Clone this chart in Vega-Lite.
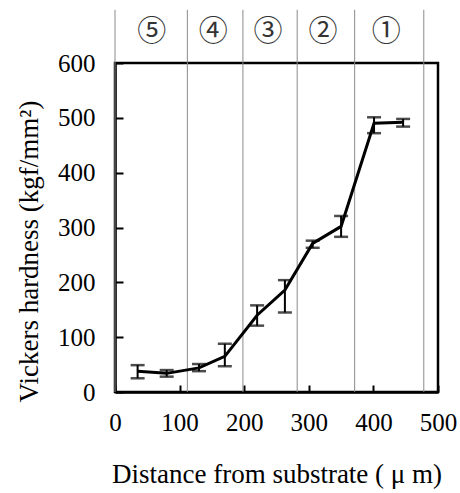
{
  "$schema": "https://vega.github.io/schema/vega-lite/v6.json",
  "width": 323,
  "height": 329,
  "autosize": {"type": "none"},
  "padding": {"left": 115, "top": 63, "right": 22, "bottom": 101},
  "background": "white",
  "config": {
    "font": "Liberation Serif",
    "view": {"stroke": "black", "strokeWidth": 2.5},
    "axis": {
      "labelFont": "Liberation Serif",
      "titleFont": "Liberation Serif",
      "labelFontSize": 25,
      "titleFontSize": 27,
      "titleFontWeight": "normal",
      "labelColor": "black",
      "titleColor": "black",
      "domainColor": "black",
      "domainWidth": 2.5,
      "tickColor": "black",
      "tickWidth": 2,
      "grid": false
    }
  },
  "datasets": {
    "zones": [{"x": 0}, {"x": 112}, {"x": 198}, {"x": 282}, {"x": 371}, {"x": 478}],
    "labels": [
      {"x": 57, "label": "⑤"},
      {"x": 152, "label": "④"},
      {"x": 237, "label": "③"},
      {"x": 322, "label": "②"},
      {"x": 420, "label": "①"}
    ],
    "hv": [
      {"x": 35, "y": 38, "lo": 25, "hi": 49},
      {"x": 80, "y": 34, "lo": 28, "hi": 40},
      {"x": 130, "y": 44, "lo": 38, "hi": 51},
      {"x": 170, "y": 65, "lo": 47, "hi": 88},
      {"x": 220, "y": 140, "lo": 121, "hi": 158},
      {"x": 263, "y": 186, "lo": 145, "hi": 204},
      {"x": 306, "y": 271, "lo": 263, "hi": 276},
      {"x": 350, "y": 302, "lo": 283, "hi": 321},
      {"x": 401, "y": 490, "lo": 472, "hi": 501},
      {"x": 446, "y": 492, "lo": 484, "hi": 498}
    ]
  },
  "layer": [
    {
      "data": {"name": "zones"},
      "mark": {"type": "rule", "color": "#8a8a8a", "strokeWidth": 1, "clip": false},
      "encoding": {
        "x": {"field": "x", "type": "quantitative", "scale": {"domain": [0, 500]}},
        "y": {"datum": 0, "type": "quantitative", "scale": {"domain": [0, 600]}},
        "y2": {"datum": 697}
      }
    },
    {
      "data": {"name": "labels"},
      "mark": {"type": "text", "font": "Noto Sans CJK JP", "fontSize": 29, "color": "#333", "clip": false, "baseline": "middle"},
      "encoding": {
        "x": {"field": "x", "type": "quantitative"},
        "y": {"datum": 656, "type": "quantitative"},
        "text": {"field": "label"}
      }
    },
    {
      "data": {"name": "hv"},
      "mark": {"type": "rule", "color": "black", "strokeWidth": 2},
      "encoding": {
        "x": {"field": "x", "type": "quantitative"},
        "y": {"field": "lo", "type": "quantitative"},
        "y2": {"field": "hi"}
      }
    },
    {
      "data": {"name": "hv"},
      "mark": {"type": "tick", "orient": "horizontal", "color": "black", "size": 14, "thickness": 2.5},
      "encoding": {
        "x": {"field": "x", "type": "quantitative"},
        "y": {"field": "lo", "type": "quantitative"}
      }
    },
    {
      "data": {"name": "hv"},
      "mark": {"type": "tick", "orient": "horizontal", "color": "black", "size": 14, "thickness": 2.5},
      "encoding": {
        "x": {"field": "x", "type": "quantitative"},
        "y": {"field": "hi", "type": "quantitative"}
      }
    },
    {
      "data": {"name": "hv"},
      "mark": {"type": "line", "color": "black", "strokeWidth": 3},
      "encoding": {
        "x": {
          "field": "x", "type": "quantitative",
          "scale": {"domain": [0, 500], "nice": false},
          "axis": {
            "title": "Distance from substrate ( μ m)",
            "values": [0, 100, 200, 300, 400, 500],
            "tickSize": -7,
            "labelPadding": 25,
            "labelFlush": false,
            "titlePadding": 26
          }
        },
        "y": {
          "field": "y", "type": "quantitative",
          "scale": {"domain": [0, 600], "nice": false},
          "axis": {
            "title": "Vickers hardness (kgf/mm²)",
            "values": [0, 100, 200, 300, 400, 500, 600],
            "tickSize": -8,
            "labelPadding": 28,
            "titleX": -78,
            "titleY": 188,
            "titleBaseline": "alphabetic"
          }
        }
      }
    }
  ]
}
